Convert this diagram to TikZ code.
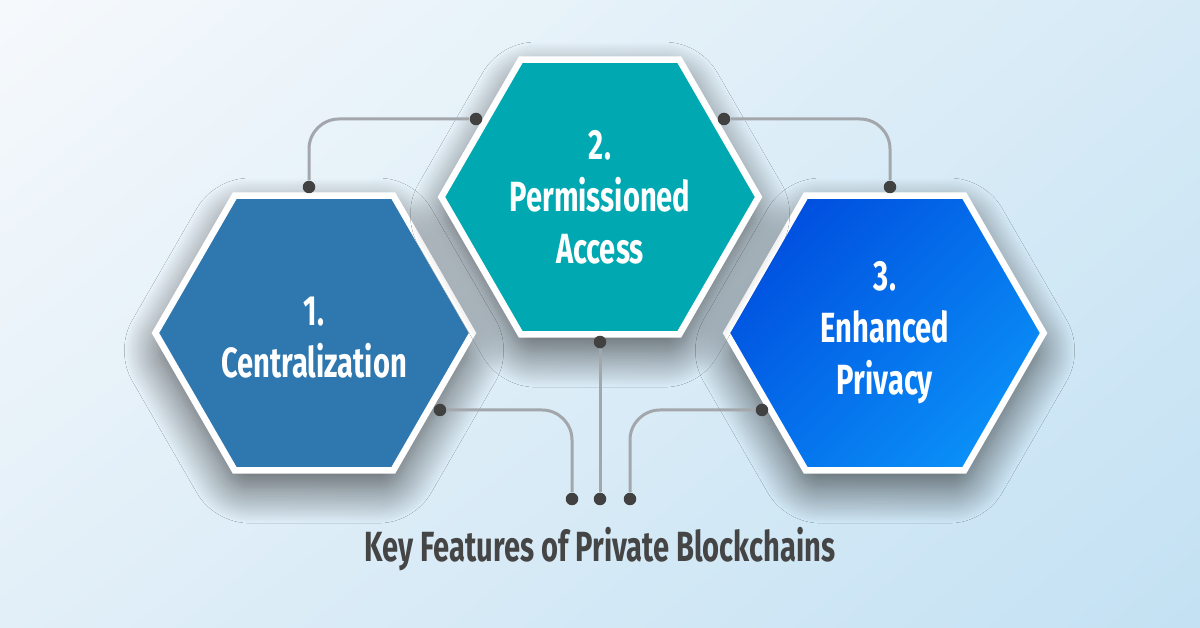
\documentclass[tikz,border=0pt]{standalone}
\usepackage{fontspec}
\setmainfont{Fira Sans}[FakeStretch=0.69]
\usetikzlibrary{shapes.geometric,shadows.blur,shadings}

\definecolor{centralblue}{HTML}{2E77AF}
\definecolor{permteal}{HTML}{00A9B2}
\definecolor{privdark}{HTML}{0050DF}
\definecolor{privlight}{HTML}{0A8FF7}
\definecolor{linkgray}{HTML}{A3A7AB}
\definecolor{pingray}{HTML}{414141}
\definecolor{titlegray}{HTML}{454545}
\definecolor{bgul}{HTML}{F6F9FC}
\definecolor{bgur}{HTML}{D6EAF6}
\definecolor{bgll}{HTML}{E2EFF8}
\definecolor{bglr}{HTML}{C3E1F3}

\tikzset{
  hexa/.style={regular polygon, regular polygon sides=6, minimum size=3.17cm,
    inner sep=0pt, draw=white, line width=0.065cm, text=white, align=center,
    font=\fontsize{12}{14.8}\selectfont\bfseries,
    blur shadow={shadow xshift=0pt, shadow yshift=-5pt, shadow blur radius=10pt,
      shadow blur steps=30, shadow opacity=65, shadow blur extra rounding=4pt}},
  link/.style={draw=linkgray, line width=0.03cm, rounded corners=0.3cm},
  pin/.style={circle, fill=pingray, inner sep=0pt, minimum size=0.125cm},
}

\begin{document}
\begin{tikzpicture}[x=0.01cm, y=-0.01cm]
  \useasboundingbox (0,0) rectangle (1200,628);
  \shade[upper left=bgul, upper right=bgur, lower left=bgll, lower right=bglr]
    (0,0) rectangle (1200,628); % background

  % the three features
  \node[hexa, fill=centralblue] (central) at (314,333) {\\[-4pt]1.\\Centralization};
  \node[hexa, top color=privdark, bottom color=privlight, shading angle=45] (priv) at (885,333) {3.\\Enhanced\\Privacy};
  \node[hexa, fill=permteal] (perm) at (600,197) {2.\\Permissioned\\Access};

  % pins
  \node[pin] (perm-w) at (476,119) {};
  \node[pin] (perm-e) at (724,119) {};
  \node[pin] (perm-s) at (600,342) {};
  \node[pin] (central-n) at (309,187) {};
  \node[pin] (central-e) at (440,410) {};
  \node[pin] (priv-n) at (890,187) {};
  \node[pin] (priv-w) at (762,410) {};
  \node[pin] (key-w) at (572,499) {};
  \node[pin] (key-c) at (600,499) {};
  \node[pin] (key-e) at (630,499) {};

  % links
  \draw[link] (perm-w) -| (central-n);
  \draw[link] (perm-e) -| (priv-n);
  \draw[link] (perm-s) -- (key-c);
  \draw[link] (central-e) -| (key-w);
  \draw[link] (priv-w) -| (key-e);

  \node[font=\fontsize{12}{14}\selectfont\bfseries, text=titlegray] (title) at (600,549) {Key Features of Private Blockchains}; % title
\end{tikzpicture}
\end{document}
